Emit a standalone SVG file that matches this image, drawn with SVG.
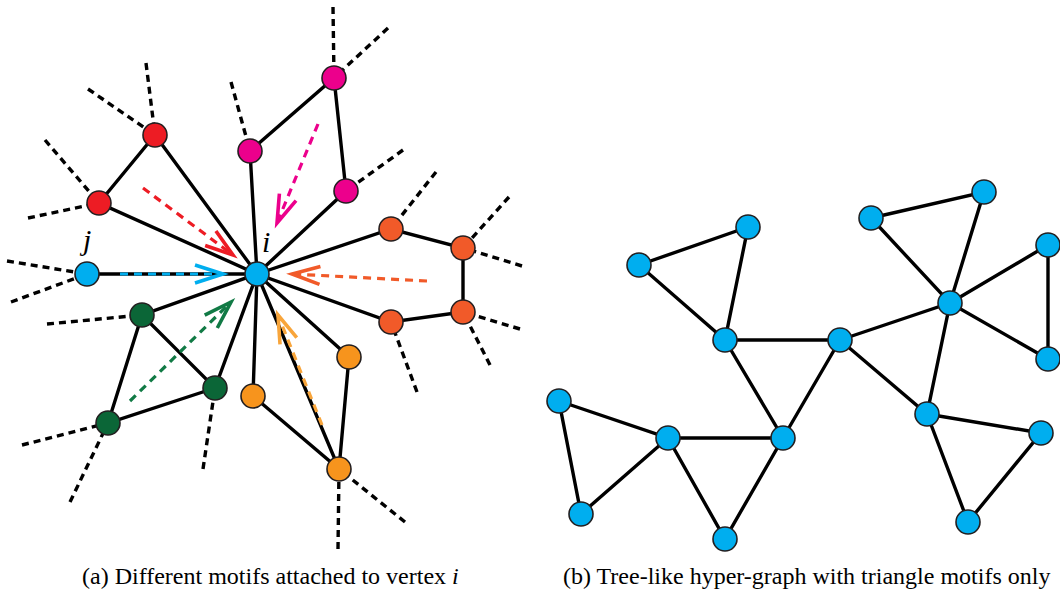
<svg xmlns="http://www.w3.org/2000/svg" width="1060" height="592" viewBox="0 0 1060 592">
  <style>
    .edge { stroke: #000; stroke-width: 3.4; stroke-linecap: round; fill: none; }
    .ext { stroke: #000; stroke-width: 3.4; stroke-dasharray: 7 5; fill: none; }
    .node { stroke: #231F20; stroke-width: 1.6; }
    .blue { fill: #00AEEF; }
    .red { fill: #ED1C24; }
    .mag { fill: #EC008C; }
    .ver { fill: #F15A29; }
    .org { fill: #F7941D; }
    .grn { fill: #0B6637; }
    .arr { stroke-width: 3.2; stroke-dasharray: 8 6; fill: none; }
    .lbl { font-family: "Liberation Serif", "Times New Roman", serif; font-style: italic; font-size: 30px; fill: #000; }
    .cap { font-family: "Liberation Serif", "Times New Roman", serif; font-size: 24px; fill: #000; }
  </style>
  <defs>
    <marker id="hRed" markerUnits="userSpaceOnUse" markerWidth="40" markerHeight="40" refX="0" refY="0" orient="auto" viewBox="-34 -20 40 40" overflow="visible">
      <path d="M-28,-9 L0,0 L-28,9" fill="none" stroke="#ED1C24" stroke-width="3.6"/>
    </marker>
    <marker id="hMag" markerUnits="userSpaceOnUse" markerWidth="40" markerHeight="40" refX="0" refY="0" orient="auto" viewBox="-34 -20 40 40" overflow="visible">
      <path d="M-28,-9 L0,0 L-28,9" fill="none" stroke="#EC008C" stroke-width="3.6"/>
    </marker>
    <marker id="hBlue" markerUnits="userSpaceOnUse" markerWidth="40" markerHeight="40" refX="0" refY="0" orient="auto" viewBox="-34 -20 40 40" overflow="visible">
      <path d="M-28,-9 L0,0 L-28,9" fill="none" stroke="#00AEEF" stroke-width="3.6"/>
    </marker>
    <marker id="hVer" markerUnits="userSpaceOnUse" markerWidth="40" markerHeight="40" refX="0" refY="0" orient="auto" viewBox="-34 -20 40 40" overflow="visible">
      <path d="M-28,-9 L0,0 L-28,9" fill="none" stroke="#F15A29" stroke-width="3.6"/>
    </marker>
    <marker id="hGrn" markerUnits="userSpaceOnUse" markerWidth="40" markerHeight="40" refX="0" refY="0" orient="auto" viewBox="-34 -20 40 40" overflow="visible">
      <path d="M-28,-9 L0,0 L-28,9" fill="none" stroke="#117A45" stroke-width="3.6"/>
    </marker>
    <marker id="hOrg" markerUnits="userSpaceOnUse" markerWidth="40" markerHeight="40" refX="0" refY="0" orient="auto" viewBox="-34 -20 40 40" overflow="visible">
      <path d="M-28,-9 L0,0 L-28,9" fill="none" stroke="#F8A53B" stroke-width="3.6"/>
    </marker>
  </defs>

  <!-- (a) motifs around vertex i -->
  <g id="connectors-a">
    <!-- dangling edges to the rest of the graph -->
    <g id="external-edges">
      <line class="ext" x1="146" y1="63" x2="155" y2="135"/>
      <line class="ext" x1="88" y1="89" x2="155" y2="135"/>
      <line class="ext" x1="45" y1="140" x2="99" y2="203"/>
      <line class="ext" x1="28" y1="218" x2="99" y2="203"/>
      <line class="ext" x1="231" y1="82" x2="250" y2="151"/>
      <line class="ext" x1="333" y1="7" x2="334" y2="78"/>
      <line class="ext" x1="388" y1="28" x2="334" y2="78"/>
      <line class="ext" x1="403" y1="150" x2="346" y2="191"/>
      <line class="ext" x1="436" y1="172" x2="391" y2="229"/>
      <line class="ext" x1="509" y1="197" x2="463" y2="248"/>
      <line class="ext" x1="522" y1="266" x2="463" y2="248"/>
      <line class="ext" x1="520" y1="329" x2="463" y2="312"/>
      <line class="ext" x1="490" y1="365" x2="463" y2="312"/>
      <line class="ext" x1="417" y1="392" x2="391" y2="322"/>
      <line class="ext" x1="338" y1="549" x2="339" y2="469"/>
      <line class="ext" x1="405" y1="522" x2="339" y2="469"/>
      <line class="ext" x1="203" y1="469" x2="215" y2="388"/>
      <line class="ext" x1="70" y1="502" x2="108" y2="423"/>
      <line class="ext" x1="22" y1="445" x2="108" y2="423"/>
      <line class="ext" x1="47" y1="324" x2="142" y2="315"/>
      <line class="ext" x1="7" y1="261" x2="87" y2="274"/>
      <line class="ext" x1="11" y1="302" x2="87" y2="274"/>
    </g>
    <!-- motif edges -->
    <g id="motif-edges">
      <path class="edge" d="M257,274 L155,135 L99,203 Z"/>
      <path class="edge" d="M257,274 L250,151 L334,78 L346,191 Z"/>
      <path class="edge" d="M257,274 L391,229 L463,248 L463,312 L391,322 Z"/>
      <path class="edge" d="M257,274 L253,396 L339,469 L349,357 Z"/>
      <line class="edge" x1="257" y1="274" x2="339" y2="469"/>
      <path class="edge" d="M257,274 L142,315 L215,388 Z"/>
      <path class="edge" d="M142,315 L108,423 L215,388"/>
      <line class="edge" x1="257" y1="274" x2="87" y2="274"/>
    </g>
    <!-- message arrows towards i -->
    <g id="motif-arrows">
      <line class="arr" stroke="#ED1C24" x1="143" y1="188" x2="233" y2="255" marker-end="url(#hRed)"/>
      <line class="arr" stroke="#EC008C" x1="318" y1="124" x2="277" y2="223" marker-end="url(#hMag)"/>
      <line class="arr" stroke="#00AEEF" x1="120" y1="274" x2="223" y2="274" marker-end="url(#hBlue)"/>
      <line class="arr" stroke="#F15A29" x1="427" y1="281" x2="292" y2="274" marker-end="url(#hVer)"/>
      <line class="arr" stroke="#117A45" x1="130" y1="401" x2="231" y2="302" marker-end="url(#hGrn)"/>
      <line class="arr" stroke="#F8A53B" x1="322" y1="425" x2="278" y2="315" marker-end="url(#hOrg)"/>
    </g>
  </g>

  <g id="nodes-a">
    <circle id="v-i" class="node blue" cx="257" cy="274" r="12"/>
    <circle id="v-j" class="node blue" cx="87" cy="274" r="12"/>
    <g id="motif-red">
      <circle class="node red" cx="155" cy="135" r="12"/>
      <circle class="node red" cx="99" cy="203" r="12"/>
    </g>
    <g id="motif-magenta">
      <circle class="node mag" cx="250" cy="151" r="12"/>
      <circle class="node mag" cx="334" cy="78" r="12"/>
      <circle class="node mag" cx="346" cy="191" r="12"/>
    </g>
    <g id="motif-vermilion">
      <circle class="node ver" cx="391" cy="229" r="12"/>
      <circle class="node ver" cx="463" cy="248" r="12"/>
      <circle class="node ver" cx="463" cy="312" r="12"/>
      <circle class="node ver" cx="391" cy="322" r="12"/>
    </g>
    <g id="motif-orange">
      <circle class="node org" cx="253" cy="396" r="12"/>
      <circle class="node org" cx="349" cy="357" r="12"/>
      <circle class="node org" cx="339" cy="469" r="12"/>
    </g>
    <g id="motif-green">
      <circle class="node grn" cx="142" cy="315" r="12"/>
      <circle class="node grn" cx="215" cy="388" r="12"/>
      <circle class="node grn" cx="108" cy="423" r="12"/>
    </g>
    <text class="lbl" x="83" y="250">j</text>
    <text class="lbl" x="262" y="252">i</text>
  </g>

  <!-- (b) tree of triangles -->
  <g id="connectors-b">
    <path class="edge" d="M639,265 L748,227 L725,340 Z"/>
    <line class="edge" x1="725" y1="340" x2="840" y2="340"/>
    <path class="edge" d="M725,340 L783,438 L840,340"/>
    <path class="edge" d="M840,340 L950,303 L927,414 Z"/>
    <path class="edge" d="M871,218 L984,192 L950,303 Z"/>
    <path class="edge" d="M950,303 L1048,245 L1048,359 Z"/>
    <path class="edge" d="M559,401 L668,438 L581,514 Z"/>
    <path class="edge" d="M668,438 L783,438 L725,539 Z"/>
    <path class="edge" d="M927,414 L1041,433 L968,522 Z"/>
  </g>
  <g id="nodes-b">
    <circle id="b-a" class="node blue" cx="639" cy="265" r="12"/>
    <circle id="b-b" class="node blue" cx="748" cy="227" r="12"/>
    <circle id="b-c" class="node blue" cx="725" cy="340" r="12"/>
    <circle id="b-d" class="node blue" cx="840" cy="340" r="12"/>
    <circle id="b-e" class="node blue" cx="871" cy="218" r="12"/>
    <circle id="b-f" class="node blue" cx="984" cy="192" r="12"/>
    <circle id="b-g" class="node blue" cx="950" cy="303" r="12"/>
    <circle id="b-h" class="node blue" cx="1048" cy="245" r="12"/>
    <circle id="b-i" class="node blue" cx="1048" cy="359" r="12"/>
    <circle id="b-j" class="node blue" cx="559" cy="401" r="12"/>
    <circle id="b-k" class="node blue" cx="668" cy="438" r="12"/>
    <circle id="b-l" class="node blue" cx="783" cy="438" r="12"/>
    <circle id="b-m" class="node blue" cx="581" cy="514" r="12"/>
    <circle id="b-n" class="node blue" cx="725" cy="539" r="12"/>
    <circle id="b-o" class="node blue" cx="927" cy="414" r="12"/>
    <circle id="b-p" class="node blue" cx="1041" cy="433" r="12"/>
    <circle id="b-q" class="node blue" cx="968" cy="522" r="12"/>
  </g>

  <g id="captions">
    <text class="cap" x="82" y="584">(a) Different motifs attached to vertex <tspan font-style="italic">i</tspan></text>
    <text class="cap" x="563" y="584">(b) Tree-like hyper-graph with triangle motifs only</text>
  </g>
</svg>
